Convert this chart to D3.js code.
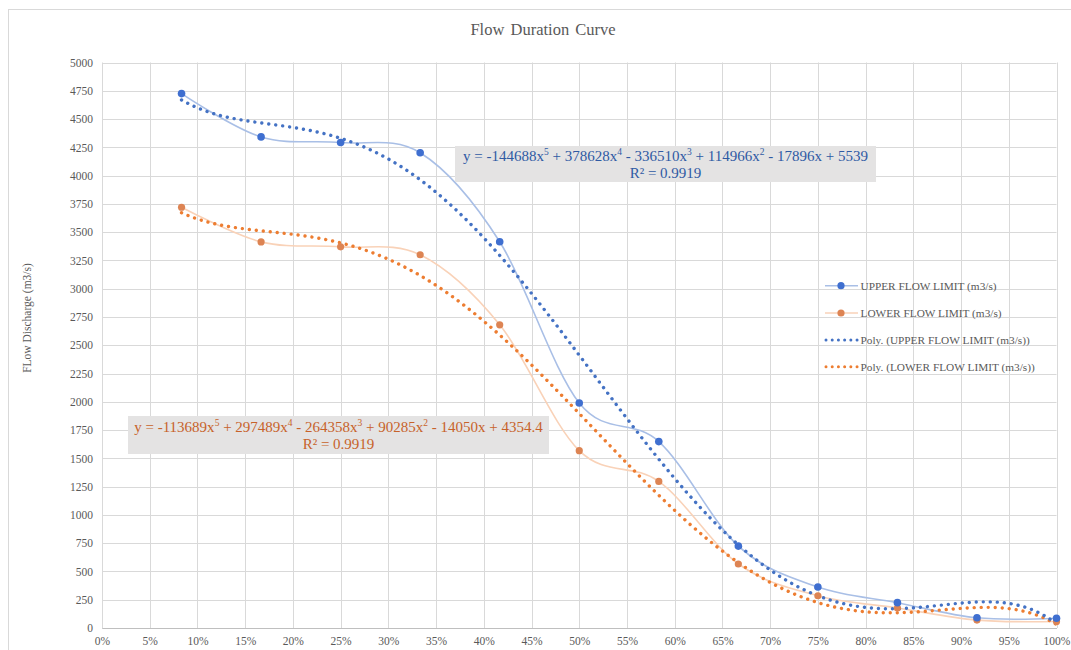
<!DOCTYPE html>
<html><head><meta charset="utf-8">
<script src="https://cdn.jsdelivr.net/npm/d3@7"></script>
<style>
html,body{margin:0;padding:0;background:#fff;}
svg{display:block;}
text{font-family:"Liberation Serif","Times New Roman",serif;}
</style></head>
<body>
<svg id="chart" width="1071" height="650"></svg>
<script>
// ---------- data ----------
const exceedance = [1/12, 2/12, 3/12, 4/12, 5/12, 6/12, 7/12, 8/12, 9/12, 10/12, 11/12, 12/12];
const upperFlow = [4725, 4342, 4292, 4202, 3415, 1990, 1648, 724, 362, 224, 90, 86];
const lowerFlow = [3720, 3414, 3370, 3300, 2681, 1568, 1296, 566, 285, 177, 70, 58];
const upperCoef = [5539, -17896, 114966, -336510, 378628, -144688]; // c0..c5
const lowerCoef = [4354.4, -14050, 90285, -264358, 297489, -113689];
const seriesNames = ["UPPER FLOW LIMIT (m3/s)", "LOWER FLOW LIMIT (m3/s)",
  "Poly. (UPPER FLOW LIMIT (m3/s))", "Poly. (LOWER FLOW LIMIT (m3/s))"];
const yTicks = d3.range(0, 5001, 250);
const xTicks = d3.range(0, 21).map(i => i * 0.05);
const upperEq = [["y = -144688x",""],["5",'sup'],[" + 378628x",""],["4","sup"],[" - 336510x",""],["3","sup"],[" + 114966x",""],["2","sup"],[" - 17896x + 5539",""]];
const lowerEq = [["y = -113689x",""],["5",'sup'],[" + 297489x",""],["4","sup"],[" - 264358x",""],["3","sup"],[" + 90285x",""],["2","sup"],[" - 14050x + 4354.4",""]];
const r2Text = "R² = 0.9919";

// ---------- layout ----------
const svg = d3.select("#chart");
const pLeft = 102, pRight = 1056.5, pTop = 62.5, pBottom = 628;
const x = d3.scaleLinear().domain([0, 1]).range([pLeft, pRight]);
const y = d3.scaleLinear().domain([0, 5000]).range([pBottom, pTop]);
const gray = "#595959", grid = "#d9d9d9";
const blue = "#4472c4", orange = "#ed7d31";

// outer chart frame
svg.append("rect").attr("x", 8.5).attr("y", 9.5).attr("width", 1070).attr("height", 660)
  .attr("fill", "none").attr("stroke", grid);

// title
svg.append("text").attr("x", 543).attr("y", 35).attr("text-anchor", "middle")
  .attr("font-size", 16.5).attr("fill", gray).attr("word-spacing", 2).text("Flow Duration Curve");

// gridlines
svg.append("g").selectAll("line").data(yTicks).join("line")
  .attr("x1", pLeft).attr("x2", pRight).attr("y1", d => Math.round(y(d)) + 0.5).attr("y2", d => Math.round(y(d)) + 0.5)
  .attr("stroke", grid);
svg.append("g").selectAll("line").data(xTicks).join("line")
  .attr("y1", pTop).attr("y2", pBottom).attr("x1", d => Math.round(x(d)) + 0.5).attr("x2", d => Math.round(x(d)) + 0.5)
  .attr("stroke", grid);

// axes
const yAxis = d3.axisLeft(y).tickValues(yTicks).tickSize(0).tickPadding(9).tickFormat(d3.format("d"));
const gy = svg.append("g").attr("transform", `translate(${pLeft},0)`).call(yAxis);
gy.select(".domain").remove();
gy.selectAll("text").attr("font-size", 11.5).attr("fill", gray);

const xAxis = d3.axisBottom(x).tickValues(xTicks).tickSize(0).tickPadding(9).tickFormat(d3.format(".0%"));
const gx = svg.append("g").attr("transform", `translate(0,${pBottom})`).call(xAxis);
gx.select(".domain").attr("stroke", "#bfbfbf");
gx.selectAll("text").attr("font-size", 11.5).attr("fill", gray);

// y axis title
svg.append("text").attr("transform", "translate(31,318) rotate(-90)").attr("text-anchor", "middle")
  .attr("font-size", 11.5).attr("fill", gray).text("FLow Discharge (m3/s)");

// smoothed series lines
const line = d3.line().x(d => x(d[0])).y(d => y(d[1])).curve(d3.curveCatmullRom.alpha(0));
const upperPts = exceedance.map((e, i) => [e, upperFlow[i]]);
const lowerPts = exceedance.map((e, i) => [e, lowerFlow[i]]);
svg.append("path").datum(upperPts).attr("d", line).attr("fill", "none").attr("stroke", "#a9bfe6").attr("stroke-width", 1.6);
svg.append("path").datum(lowerPts).attr("d", line).attr("fill", "none").attr("stroke", "#f9d2b8").attr("stroke-width", 1.6);

// polynomial trendlines
const poly = c => t => c.reduce((s, ci, k) => s + ci * Math.pow(t, k), 0);
const ts = d3.range(0, 401).map(i => exceedance[0] + (1 - exceedance[0]) * i / 400);
const tline = d3.line().x(d => x(d[0])).y(d => y(d[1]));
svg.append("path").datum(ts.map(t => [t, poly(lowerCoef)(t)])).attr("d", tline)
  .attr("fill", "none").attr("stroke", orange).attr("stroke-width", 3.4)
  .attr("stroke-dasharray", "0.01 7").attr("stroke-linecap", "round");
svg.append("path").datum(ts.map(t => [t, poly(upperCoef)(t)])).attr("d", tline)
  .attr("fill", "none").attr("stroke", blue).attr("stroke-width", 3.4)
  .attr("stroke-dasharray", "0.01 7").attr("stroke-linecap", "round");

// markers
svg.append("g").selectAll("circle").data(lowerPts).join("circle")
  .attr("cx", d => x(d[0])).attr("cy", d => y(d[1])).attr("r", 3.6).attr("fill", "#dd8453");
svg.append("g").selectAll("circle").data(upperPts).join("circle")
  .attr("cx", d => x(d[0])).attr("cy", d => y(d[1])).attr("r", 3.8).attr("fill", "#3f6fd0");

// equation labels
function eqBox(bx, by, bw, bh, parts, color, cx, y1, y2) {
  svg.append("rect").attr("x", bx).attr("y", by).attr("width", bw).attr("height", bh).attr("fill", "#e4e3e3");
  const t = svg.append("text").attr("x", cx).attr("y", y1).attr("text-anchor", "middle")
    .attr("font-size", 15).attr("fill", color);
  parts.forEach(([s, k]) => {
    if (k === "sup") t.append("tspan").attr("font-size", 9.5).attr("dy", -6).text(s);
    else t.append("tspan").attr("dy", 6).text(s);
  });
  t.select("tspan").attr("dy", 0);
  svg.append("text").attr("x", cx).attr("y", y2).attr("text-anchor", "middle")
    .attr("font-size", 15).attr("fill", color).text(r2Text);
}
eqBox(455, 146, 421, 36, upperEq, "#2f5aa3", 665.5, 161, 178);
eqBox(128, 416, 421, 38, lowerEq, "#c7622a", 338.5, 432, 449);

// legend
const leg = svg.append("g");
const legY = [285.7, 313, 340, 366.7];
seriesNames.forEach((name, i) => {
  const g = leg.append("g").attr("transform", `translate(0,${legY[i]})`);
  if (i < 2) {
    g.append("line").attr("x1", 825).attr("x2", 858).attr("stroke", i === 0 ? "#a9bfe6" : "#f9d2b8").attr("stroke-width", 1.6);
    g.append("circle").attr("cx", 841).attr("r", 3.6).attr("fill", i === 0 ? "#3f6fd0" : "#dd8453");
  } else {
    g.append("line").attr("x1", 826).attr("x2", 858).attr("stroke", i === 2 ? blue : orange)
      .attr("stroke-width", 3).attr("stroke-dasharray", "0.01 6.2").attr("stroke-linecap", "round");
  }
  g.append("text").attr("x", 860.5).attr("y", 4).attr("font-size", 11.3).attr("fill", gray).text(name);
});
</script>
</body></html>
